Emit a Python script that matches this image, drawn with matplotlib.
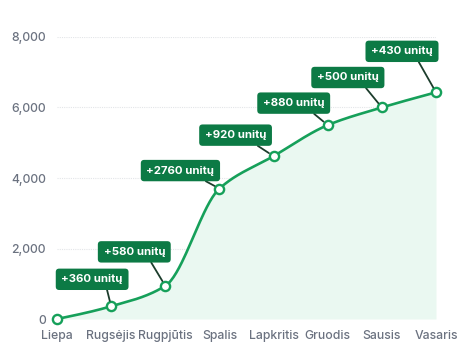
import numpy as np
import matplotlib
matplotlib.use("Agg")
import matplotlib.pyplot as plt

months = ["Liepa", "Rugsėjis", "Rugpjūtis", "Spalis", "Lapkritis", "Gruodis", "Sausis", "Vasaris"]
cumulative = [0, 360, 940, 3700, 4620, 5500, 6000, 6430]
increments = [None, 360, 580, 2760, 920, 880, 500, 430]
yticks = [0, 2000, 4000, 6000, 8000]

# label offsets in pixels (box center relative to point)
offsets = [None, (-19, 27), (-31, 34), (-39, 18), (-38, 21), (-34, 22), (-34, 30), (-34, 41)]

LINE = "#16a05a"
FILL = "#eaf8f1"
BOX = "#0c7a45"
CONN = "#1c3d2c"
GRAY = "#6b7280"

plt.rcParams['font.family'] = ['Inter', 'DejaVu Sans']


def monotone(x, y, n=40):
    x = np.asarray(x, float); y = np.asarray(y, float)
    h = np.diff(x); d = np.diff(y) / h
    m = np.zeros_like(y)
    for i in range(1, len(x) - 1):
        if d[i - 1] * d[i] <= 0:
            m[i] = 0
        else:
            m[i] = (np.sign(d[i-1]) * 3 * (h[i-1] + h[i]) /
                    ((2 * h[i] + h[i-1]) / d[i-1] + (h[i] + 2 * h[i-1]) / d[i]))
    m[0] = (3 * d[0] - m[1]) / 2
    m[-1] = (3 * d[-1] - m[-2]) / 2
    xs, ys = [], []
    for i in range(len(x) - 1):
        t = np.linspace(0, 1, n)
        h00 = 2*t**3 - 3*t**2 + 1
        h10 = t**3 - 2*t**2 + t
        h01 = -2*t**3 + 3*t**2
        h11 = t**3 - t**2
        xs.append(x[i] + t * h[i])
        ys.append(h00*y[i] + h10*h[i]*m[i] + h01*y[i+1] + h11*h[i]*m[i+1])
    return np.concatenate(xs), np.concatenate(ys)


fig = plt.figure(figsize=(4.74, 3.55), dpi=100)
ax = fig.add_axes([57/474, 1 - 319/355, (436-57)/474, (319-37)/355])

xi = np.arange(len(months))
cx, cy = monotone(xi, cumulative)
ax.fill_between(cx, cy, 0, color=FILL, zorder=1, linewidth=0)
ax.plot(cx, cy, color=LINE, lw=1.9, zorder=3, solid_capstyle='round')
ax.scatter(xi, cumulative, s=44, facecolor="white", edgecolor=LINE, linewidths=1.7,
           zorder=6, clip_on=False)

for i, inc in enumerate(increments):
    if inc is None:
        continue
    dx, dy = offsets[i]
    ax.annotate(f"+{inc} unitų", xy=(xi[i], cumulative[i]), xytext=(dx, dy),
                textcoords='offset pixels', ha='center', va='center',
                fontsize=8.2, fontweight='bold', color='white', zorder=8,
                bbox=dict(boxstyle='round,pad=0.5,rounding_size=0.3', fc=BOX, ec='none'),
                arrowprops=dict(arrowstyle='-', color=CONN, lw=1.3, relpos=(0.72, 0.0),
                                shrinkA=0, shrinkB=4), annotation_clip=False)

ax.set_xlim(0, len(months) - 1)
ax.set_ylim(0, 8000)
ax.set_yticks(yticks)
ax.set_yticklabels([f"{v:,}" for v in yticks])
ax.set_xticks(xi)
ax.set_xticklabels(months)
ax.tick_params(axis='both', length=0, labelsize=8.8, labelcolor=GRAY)
for lab in ax.get_xticklabels() + ax.get_yticklabels():
    lab.set_fontweight('medium')
ax.tick_params(axis='y', pad=8)
ax.tick_params(axis='x', pad=8)
for s in ax.spines.values():
    s.set_visible(False)
ax.grid(axis='y', color='#e3e5e8', lw=0.8, ls=(0, (1, 1)), zorder=0)
ax.set_axisbelow(True)

fig.savefig("out.png", dpi=100)
